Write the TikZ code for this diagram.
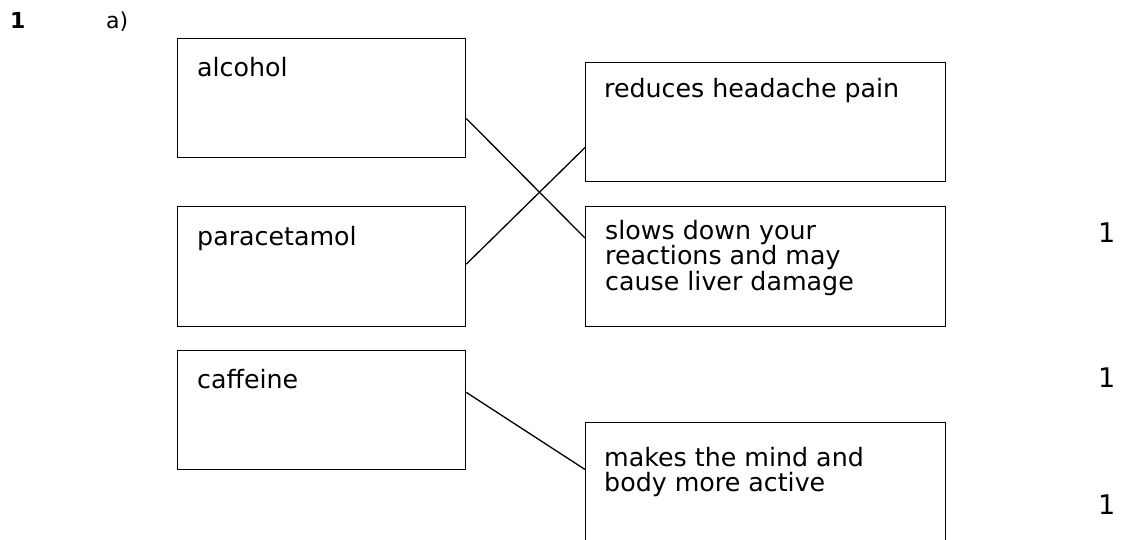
\documentclass[tikz,border=0pt]{standalone}
\usepackage{fontspec}
\setmainfont{DejaVu Sans}
\newcommand{\boxlines}[1]{\parbox[t]{320pt}{\lineskiplimit=-100pt\raggedright #1}}
\begin{document}
\begin{tikzpicture}[x=1pt,y=-1pt,
  box/.style={draw=black, line width=1.3pt, rectangle, inner sep=0pt, anchor=north west},
  lbl/.style={anchor=base west, inner sep=0pt, font=\fontsize{25.3}{25.5}\selectfont},
  marktext/.style={anchor=base west, inner sep=0pt, font=\fontsize{27}{27}\selectfont},
  head/.style={anchor=base west, inner sep=0pt, font=\fontsize{22}{22}\selectfont},
  link/.style={draw=black, line width=1.3pt}]
\useasboundingbox (0,0) rectangle (1121,539);
% heading
\node[head, font=\fontsize{22}{22}\selectfont\bfseries] (qnum) at (10,28.3) {1};
\node[head] (qpart) at (106,28.3) {a)};
% left boxes
\node[box, minimum width=288pt, minimum height=119pt] (alcohol) at (177,38) {};
\node[box, minimum width=288pt, minimum height=120pt] (para) at (177,206) {};
\node[box, minimum width=288pt, minimum height=119pt] (caff) at (177,350) {};
% right boxes
\node[box, minimum width=360pt, minimum height=119pt] (reduces) at (585,62) {};
\node[box, minimum width=360pt, minimum height=120pt] (slows) at (585,206) {};
\node[box, minimum width=360pt, minimum height=138pt] (makes) at (585,422) {};
% texts
\node[lbl] (alcoholT) at (197,76) {alcohol};
\node[lbl] (paraT) at (197,245.5) {paracetamol};
\node[lbl] (caffT) at (197,388) {caffeine};
\node[lbl] (reducesT) at (604,97) {reduces headache pain};
\node[lbl] (slowsT) at (605,239) {\boxlines{slows down your\\reactions and may\\cause liver damage}};
\node[lbl] (makesT) at (604,466) {\boxlines{makes the mind and\\body more active}};
% marks
\node[marktext] (markA) at (1098,242) {1};
\node[marktext] (markB) at (1098,387) {1};
\node[marktext] (markC) at (1098,514) {1};
% connectors
\draw[link] (alcohol.-8.88) -- (slows.171.47);
\draw[link] (para.1.59) -- (reduces.-172.875);
\draw[link] (caff.7.44) -- (makes.173.03);
\end{tikzpicture}
\end{document}
